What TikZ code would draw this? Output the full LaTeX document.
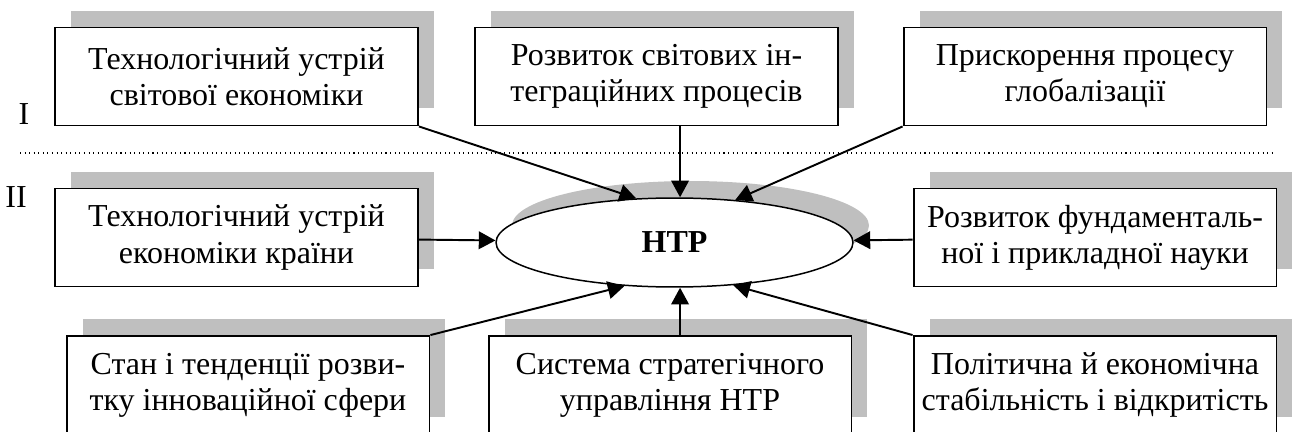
\documentclass[tikz,border=0pt]{standalone}
\usepackage{fontspec}
\setmainfont{Liberation Serif}
\usepackage{tikz}
\usetikzlibrary{arrows.meta}
\usetikzlibrary{shapes.geometric}
\usetikzlibrary{shadows}
\tikzstyle{box}=[rectangle, draw=black, line width=1.1pt, fill=white,
                    minimum width=7.26cm, minimum height=1.96cm, align=center,
                    font=\fontsize{18.2}{20.6}\selectfont,
                    general shadow={fill=black!25, shadow xshift=.32cm, shadow yshift=.34cm}]
\tikzstyle{oval}=[ellipse, draw=black, line width=.85pt, fill=white,
                    minimum width=7.14cm, minimum height=1.78cm,
                    font=\fontsize{18.2}{20.6}\selectfont\bfseries,
                    general shadow={fill=black!25, shadow xshift=.32cm, shadow yshift=.34cm}]
\tikzstyle{arr}=[-{Triangle[length=9.5pt,width=10pt]}, line width=1.1pt]
\tikzstyle{lev}=[inner sep=0pt, font=\fontsize{18.2}{20.6}\selectfont]

\begin{document}
\begin{tikzpicture}[x=.02cm, y=-.02cm]

      \useasboundingbox (0,0) rectangle (1293,432);

      \draw[dotted, line width=.6pt] (20,153) -- (1276,153);

      \node[lev] (r1) at (24,114) {I};
      \node[lev] (r2) at (16,197) {II};

      \node[box] (a1) at (236.5,76.5) {Технологічний устрій\\світової економіки};
      \node[box] (a2) at (656.5,76.5) {Розвиток світових ін-\\теграційних процесів};
      \node[box] (a3) at (1085,76.5) {Прискорення процесу\\глобалізації};

      \node[box] (b1) at (236.5,237.5) {Технологічний устрій\\економіки країни};
      \node[oval] (n) at (674.5,242.5) {НТР};
      \node[box] (b2) at (1095,237.5) {Розвиток фундаменталь-\\ної і прикладної науки};

      \node[box] (c1) at (248,385) {Стан і тенденції розви-\\тку інноваційної сфери};
      \node[box] (c2) at (670,385) {Система стратегічного\\управління НТР};
      \node[box] (c3) at (1095,385) {Політична й економічна\\стабільність і відкритість};

      \draw[arr] (a1.south east) -- (n.131);
      \draw[arr] (a2.south -| n.83) -- (n.83);
      \draw[arr] (a3.south west) -- (n.35);

      \draw[arr] (b1) -- (n);
      \draw[arr] (b2) -- (n);

      \draw[arr] (c1.north east) -- (n.221);
      \draw[arr] (c2.north -| n.277) -- (n.277);
      \draw[arr] (c3.north west) -- (n.324);
    \end{tikzpicture}
\end{document}
